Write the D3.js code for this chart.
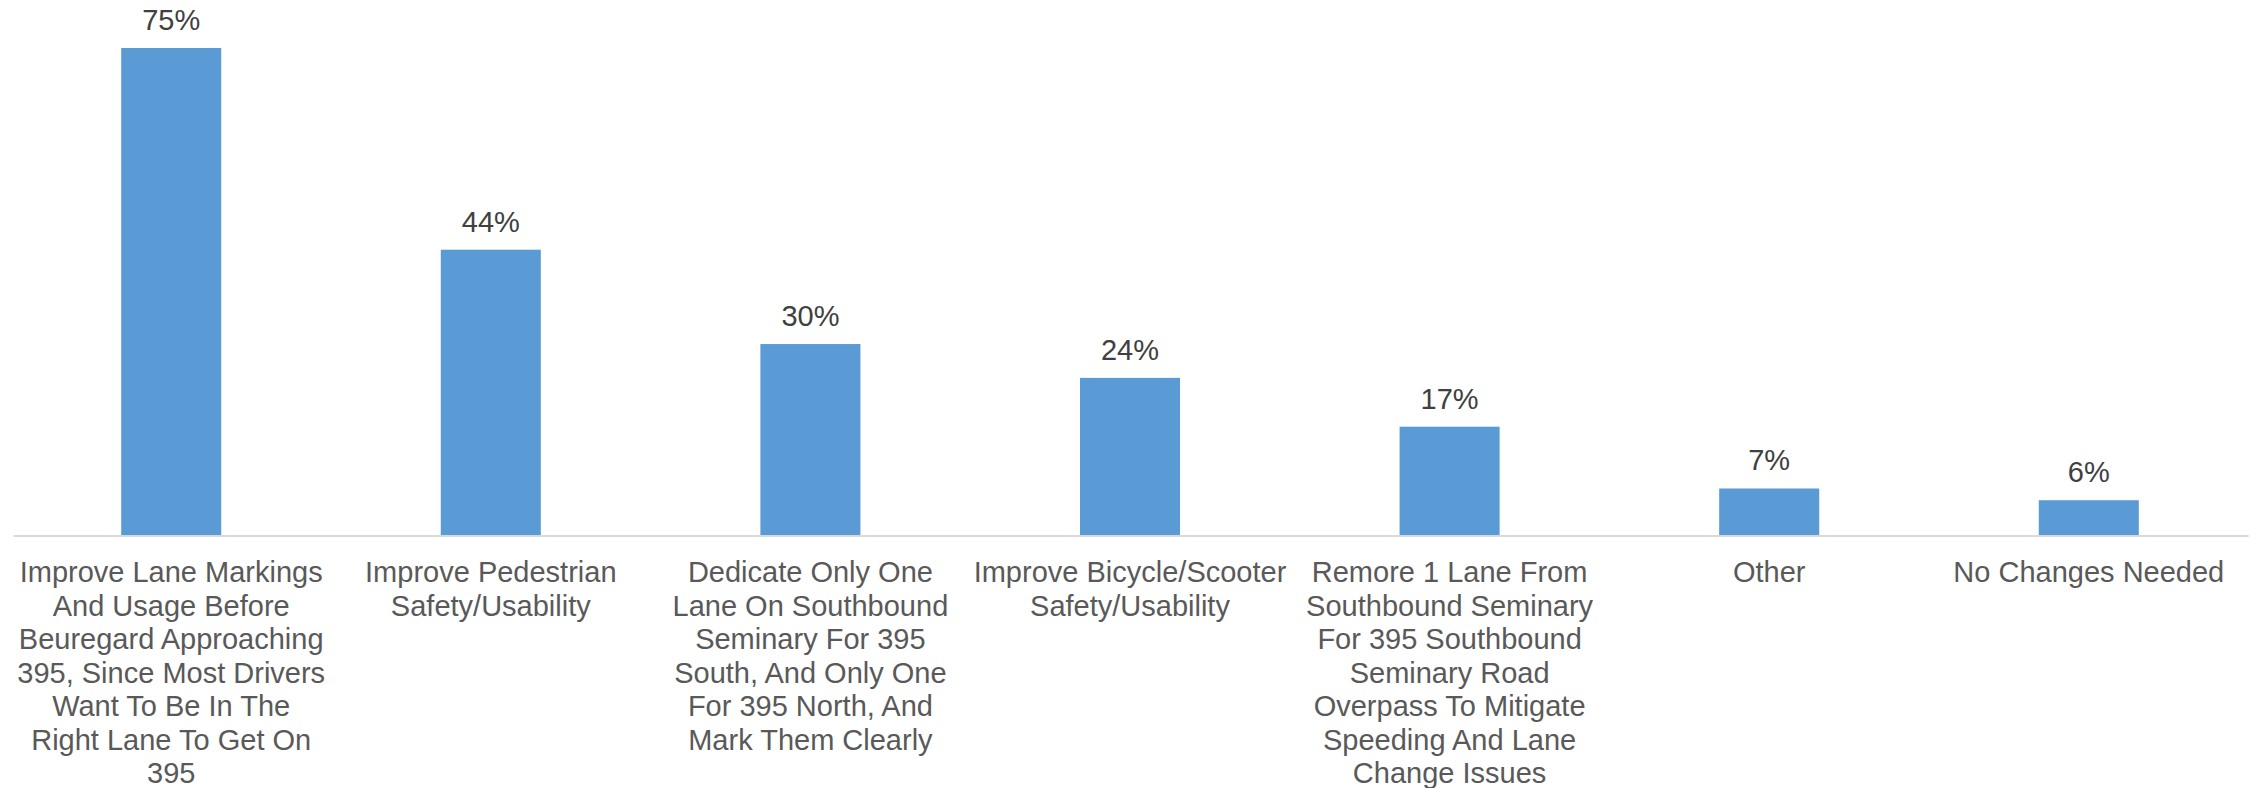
<!DOCTYPE html>
<html>
<head>
<meta charset="utf-8">
<script src="https://cdn.jsdelivr.net/npm/d3@7"></script>
<style>
  html, body { margin: 0; padding: 0; background: #ffffff; }
  svg { display: block; }
</style>
</head>
<body>
<div id="chart"></div>
<script>
const categories = [
  "Improve Lane Markings\nAnd Usage Before\nBeuregard Approaching\n395, Since Most Drivers\nWant To Be In The\nRight Lane To Get On\n395",
  "Improve Pedestrian\nSafety/Usability",
  "Dedicate Only One\nLane On Southbound\nSeminary For 395\nSouth, And Only One\nFor 395 North, And\nMark Them Clearly",
  "Improve Bicycle/Scooter\nSafety/Usability",
  "Remore 1 Lane From\nSouthbound Seminary\nFor 395 Southbound\nSeminary Road\nOverpass To Mitigate\nSpeeding And Lane\nChange Issues",
  "Other",
  "No Changes Needed"
];
const values = [75, 44, 29.5, 24.3, 16.8, 7.3, 5.5];
const valueLabels = ["75%", "44%", "30%", "24%", "17%", "7%", "6%"];

const W = 2252, H = 788;
const left = 11.4, right = 2248.6, baseY = 536;

const svg = d3.select("#chart").append("svg")
  .attr("width", W).attr("height", H);

const x = d3.scaleBand()
  .domain(categories)
  .range([left, right])
  .paddingInner(0.687)
  .paddingOuter(0.3435);

const y = d3.scaleLinear()
  .domain([0, 80])
  .range([baseY, baseY - 80 * 6.507]);

const data = categories.map((c, i) => ({ c, v: values[i], l: valueLabels[i] }));

// bars
svg.append("g").selectAll("rect")
  .data(data).join("rect")
  .attr("x", d => x(d.c))
  .attr("y", d => y(d.v))
  .attr("width", x.bandwidth())
  .attr("height", d => y(0) - y(d.v))
  .attr("fill", "#5B9BD5");

// axis line
const xAxis = d3.axisBottom(x).tickSize(0).tickFormat("");
const gx = svg.append("g").attr("transform", `translate(0,${baseY})`).call(xAxis);
gx.select(".domain").attr("stroke", "#D9D9D9").attr("stroke-width", 2)
  .attr("d", `M${left + 2},0H${right}`);

// category labels
const fontFam = "'Liberation Sans', Arial, Helvetica, sans-serif";
const lineH = 33.5;
const catG = svg.append("g");
data.forEach(d => {
  const cx = x(d.c) + x.bandwidth() / 2;
  const t = catG.append("text")
    .attr("x", cx)
    .attr("y", baseY + 46)
    .attr("text-anchor", "middle")
    .attr("font-family", fontFam)
    .attr("font-size", 29)
    .attr("fill", "#595959");
  d.c.split("\n").forEach((line, i) => {
    t.append("tspan").attr("x", cx).attr("dy", i === 0 ? 0 : lineH).text(line);
  });
});

// value labels
svg.append("g").selectAll("text")
  .data(data).join("text")
  .attr("x", d => x(d.c) + x.bandwidth() / 2)
  .attr("y", d => y(d.v) - 18)
  .attr("text-anchor", "middle")
  .attr("font-family", fontFam)
  .attr("font-size", 29)
  .attr("fill", "#404040")
  .text(d => d.l);
</script>
</body>
</html>
